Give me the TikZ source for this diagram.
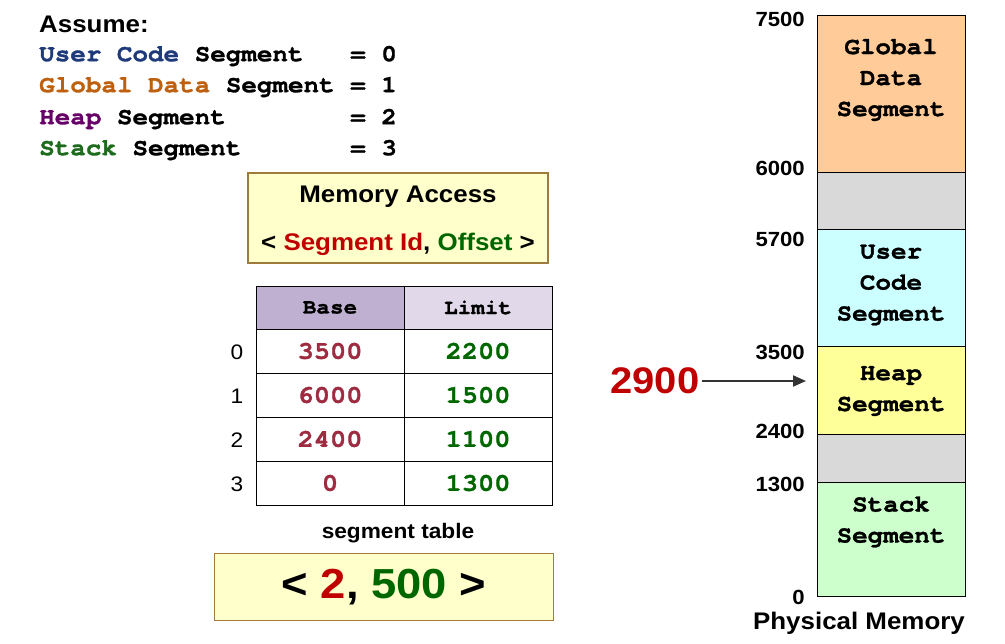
\documentclass[tikz,border=0pt]{standalone}
\usepackage{fontspec}
\setmainfont[FakeStretch=1.08]{Liberation Sans}
\newfontfamily\codefont[FakeStretch=1.08, BoldFeatures={FakeBold=1.2}]{TeX Gyre Cursor}
\usetikzlibrary{arrows.meta,positioning}
\usepackage{xcolor}

\definecolor{usercol}{HTML}{1F3A7A}
\definecolor{globcol}{HTML}{BF600F}
\definecolor{heapcol}{HTML}{660066}
\definecolor{stackcol}{HTML}{1E6B1E}
\definecolor{segred}{HTML}{C00000}
\definecolor{offgreen}{HTML}{006600}
\definecolor{basecol}{HTML}{9E2B3F}
\definecolor{boxfill}{HTML}{FFFFCC}
\definecolor{boxedge}{HTML}{A07C3C}
\definecolor{basehead}{HTML}{BFAFD0}
\definecolor{limhead}{HTML}{E1D9EA}
\definecolor{globfill}{HTML}{FFCC99}
\definecolor{gapfill}{HTML}{D9D9D9}
\definecolor{userfill}{HTML}{CCFFFF}
\definecolor{heapfill}{HTML}{FFFF99}
\definecolor{stackfill}{HTML}{CCFFCC}

\begin{document}
\begin{tikzpicture}[x=1pt, y=-1pt,
        % linhas de texto em Courier
            codeline/.style={anchor=west, inner sep=0pt, font=\codefont\bfseries\fontsize{24}{24}\selectfont},
        % caixas amarelas (acesso e endereco)
            accbox/.style={rectangle, draw=boxedge, fill=boxfill, line width=1.2pt, align=center, inner sep=0pt},
        % celulas da tabela de segmentos
            cell/.style={rectangle, draw, line width=0.8pt, minimum width=148, minimum height=44, inner sep=0pt, outer sep=0pt, font=\codefont\bfseries\fontsize{25}{25}\selectfont},
            headcell/.style={cell, minimum height=43, font=\codefont\bfseries\fontsize{21}{21}\selectfont},
        % blocos da memoria fisica
            seg/.style={rectangle, draw, line width=0.8pt, minimum width=148, inner sep=0pt, outer sep=0pt},
            segtext/.style={align=center, inner sep=0pt, font=\codefont\bfseries\fontsize{24}{31}\selectfont},
            memlab/.style={anchor=east, inner sep=0pt, font=\bfseries\fontsize{20.5}{20.5}\selectfont},
            arrow/.style={-{Triangle[length=13pt, width=11pt]}, line width=2pt, draw=black!80}
        ]
            \useasboundingbox (0,0) rectangle (1005,644);

            % --- HIPOTESES ---
            \node[anchor=west, inner sep=0pt, font=\bfseries\fontsize{24}{24}\selectfont] (assume) at (39,24) {Assume:};
            \node[codeline] (ucode) at (39,56) {\textcolor{usercol}{User Code} Segment~~~= 0};
            \node[codeline] (gdata) at (39,87) {\textcolor{globcol}{Global Data} Segment = 1};
            \node[codeline] (hp) at (39,119) {\textcolor{heapcol}{Heap} Segment~~~~~~~~= 2};
            \node[codeline] (stk) at (39,150) {\textcolor{stackcol}{Stack} Segment~~~~~~~= 3};

            % --- ACESSO A MEMORIA ---
            \node[accbox, minimum width=300, minimum height=90, font=\bfseries\fontsize{24}{47}\selectfont] (access) at (398,218) {};
            \node[font=\bfseries\fontsize{24}{24}\selectfont] (acctitle) at (398,197) {Memory Access};
            \node[font=\bfseries\fontsize{24}{24}\selectfont] (accform) at (398,244)
                {< \textcolor{segred}{Segment Id}, \textcolor{offgreen}{Offset} >};

            % --- TABELA DE SEGMENTOS ---
            \node[headcell, fill=basehead, anchor=north west] (hbase) at (256,286) {Base};
            \node[headcell, fill=limhead, right=0pt of hbase] (hlim) {Limit};
            \foreach \b/\l [count=\i from 0] in {3500/2200, 6000/1500, 2400/1100, 0/1300} {
                \node[cell, anchor=north west, text=basecol] (base\i) at (256,{329+44*\i}) {\b};
                \node[cell, right=0pt of base\i, text=offgreen] (lim\i) {\l};
                \node[font=\fontsize{21}{21}\selectfont] (idx\i) at (237,{352+44*\i}) {\i};
            }
            \node[font=\bfseries\fontsize{21}{21}\selectfont] (tabcap) at (398,533) {segment table};

            % --- ENDERECO ---
            \node[accbox, minimum width=339, minimum height=67, font=\bfseries\fontsize{42}{42}\selectfont] (req) at (384,587)
                {< \textcolor{segred}{2}, \textcolor{offgreen}{500} >};

            % --- MEMORIA FISICA ---
            \node[seg, fill=globfill, minimum height=157, anchor=north west] (glob) at (817,15) {};
            \node[seg, fill=gapfill, minimum height=57, below=0pt of glob] (gap1) {};
            \node[seg, fill=userfill, minimum height=117, below=0pt of gap1] (user) {};
            \node[seg, fill=heapfill, minimum height=88, below=0pt of user] (heap) {};
            \node[seg, fill=gapfill, minimum height=48, below=0pt of heap] (gap2) {};
            \node[seg, fill=stackfill, minimum height=114, below=0pt of gap2] (stack) {};

            \node[segtext] (globtxt) at (891,80) {Global\\Data\\Segment};
            \node[segtext] (usertxt) at (891,285) {User\\Code\\Segment};
            \node[segtext] (heaptxt) at (891,391) {Heap\\Segment};
            \node[segtext] (stacktxt) at (891,522) {Stack\\Segment};

            \foreach \v/\y in {7500/19, 6000/168, 5700/239, 3500/352, 2400/431, 1300/484, 0/597}
                \node[memlab] (lab\v) at (805,\y) {\v};
            \node[font=\bfseries\fontsize{24}{24}\selectfont] (physmem) at (859,623) {Physical Memory};

            % --- LIGACAO ---
            \node[text=segred, font=\bfseries\fontsize{37}{37}\selectfont, inner sep=2pt] (addr) at (655,381) {2900};
            \coordinate (tip) at (806,381);
            \draw[arrow] (addr.east) -- (tip);
        \end{tikzpicture}
\end{document}
